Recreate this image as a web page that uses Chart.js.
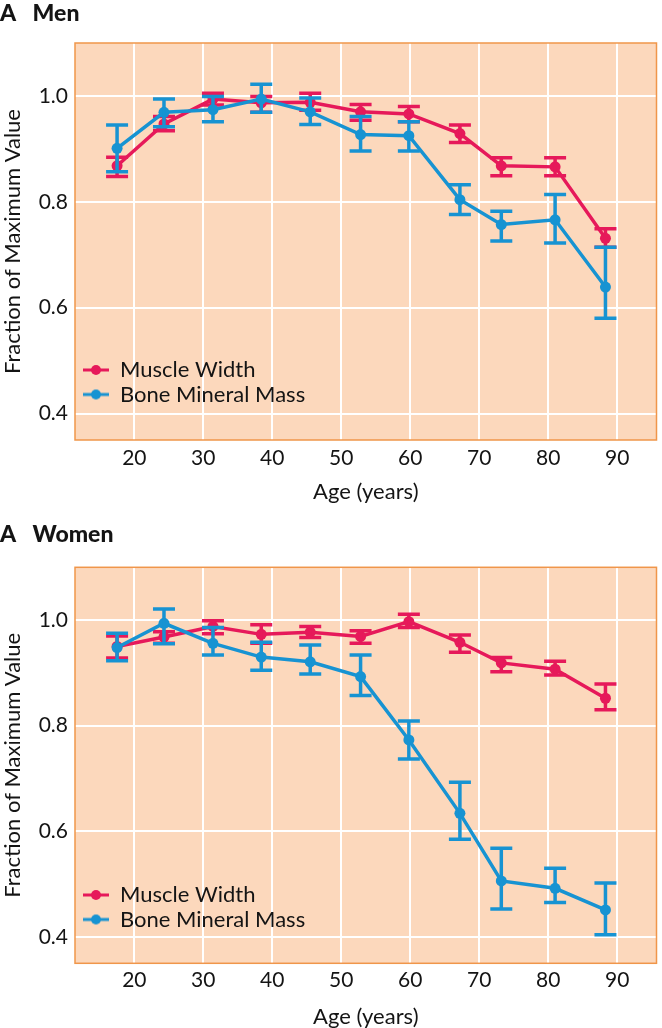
<!DOCTYPE html>
<html>
<head>
<meta charset="utf-8">
<script src="https://cdn.jsdelivr.net/npm/chart.js@4.4.1/dist/chart.umd.min.js"></script>
<style>
  html, body { margin: 0; padding: 0; background: #ffffff; }
  #wrap { position: relative; width: 662px; height: 1028px; overflow: hidden; }
  canvas { position: absolute; left: 0; }
  #men { top: 0; }
  #women { top: 510px; }
</style>
</head>
<body>
<div id="wrap">
  <canvas id="men" width="662" height="510"></canvas>
  <canvas id="women" width="662" height="522"></canvas>
</div>
<script>
// ---- Data ----
const ages = [17.5, 24.3, 31.4, 38.4, 45.5, 52.8, 59.8, 67.2, 73.2, 81.0, 88.3];
const xTicks = [20, 30, 40, 50, 60, 70, 80, 90];
const yTicks = [0.4, 0.6, 0.8, 1.0];
const seriesLabels = ['Muscle Width', 'Bone Mineral Mass'];

const menMuscle     = [0.868, 0.947, 0.994, 0.987, 0.988, 0.970, 0.966, 0.929, 0.868, 0.866, 0.731];
const menMuscleLow  = [0.848, 0.934, 0.983, 0.969, 0.973, 0.954, 0.951, 0.912, 0.849, 0.849, 0.714];
const menMuscleHigh = [0.884, 0.961, 1.005, 0.999, 1.005, 0.984, 0.980, 0.945, 0.883, 0.883, 0.749];

const menBone     = [0.901, 0.969, 0.974, 0.994, 0.970, 0.927, 0.925, 0.804, 0.757, 0.766, 0.639];
const menBoneLow  = [0.857, 0.942, 0.951, 0.969, 0.946, 0.896, 0.896, 0.776, 0.726, 0.722, 0.580];
const menBoneHigh = [0.945, 0.994, 0.999, 1.022, 0.996, 0.961, 0.951, 0.832, 0.782, 0.814, 0.714];

const womenMuscle     = [0.950, 0.968, 0.988, 0.973, 0.977, 0.969, 0.997, 0.958, 0.919, 0.907, 0.852];
const womenMuscleLow  = [0.928, 0.956, 0.974, 0.956, 0.967, 0.956, 0.986, 0.939, 0.902, 0.896, 0.830];
const womenMuscleHigh = [0.970, 0.978, 0.999, 0.991, 0.988, 0.980, 1.011, 0.972, 0.929, 0.922, 0.879];

const womenBone     = [0.948, 0.994, 0.956, 0.930, 0.921, 0.893, 0.773, 0.634, 0.506, 0.492, 0.451];
const womenBoneLow  = [0.923, 0.955, 0.934, 0.905, 0.898, 0.857, 0.737, 0.585, 0.453, 0.465, 0.404];
const womenBoneHigh = [0.975, 1.021, 0.986, 0.958, 0.953, 0.934, 0.809, 0.693, 0.568, 0.530, 0.502];

// ---- Styles ----
const RED = '#E6195A';
const BLUE = '#1793D2';
const BG = '#FCD8BC';
const FRAME = '#F0964A';
const TEXT = '#141414';
const FONT = 'Lato, "Open Sans", sans-serif';

function toXY(xs, ys) { return xs.map((x, i) => ({ x: x, y: ys[i] })); }

function marker(color) {
  const c = document.createElement('canvas');
  c.width = 26; c.height = 12;
  const g = c.getContext('2d');
  g.strokeStyle = color; g.lineWidth = 3;
  g.beginPath(); g.moveTo(0, 6); g.lineTo(26, 6); g.stroke();
  g.fillStyle = color;
  g.beginPath(); g.arc(13, 6, 5, 0, Math.PI * 2); g.fill();
  return c;
}

const plotFrame = {
  id: 'plotFrame',
  beforeDraw(chart) {
    const a = chart.chartArea, ctx = chart.ctx;
    ctx.save(); ctx.fillStyle = BG;
    ctx.fillRect(a.left, a.top, a.right - a.left, a.bottom - a.top);
    ctx.restore();
  },
  beforeDatasetsDraw(chart) {
    const a = chart.chartArea, ctx = chart.ctx;
    ctx.save(); ctx.strokeStyle = FRAME; ctx.lineWidth = 1.5;
    ctx.strokeRect(a.left, a.top, a.right - a.left, a.bottom - a.top);
    ctx.restore();
  }
};

const errorBars = {
  id: 'errorBars',
  afterDatasetDraw(chart, args) {
    const ds = chart.data.datasets[args.index];
    if (!ds.errLow) return;
    const xs = chart.scales.x, ys = chart.scales.y, ctx = chart.ctx;
    ctx.save();
    ctx.strokeStyle = ds.borderColor;
    ctx.lineWidth = 3.5;
    ctx.lineCap = 'butt';
    ds.data.forEach((p, i) => {
      const px = xs.getPixelForValue(p.x);
      const lo = ys.getPixelForValue(ds.errLow[i]);
      const hi = ys.getPixelForValue(ds.errHigh[i]);
      ctx.beginPath();
      ctx.moveTo(px, lo); ctx.lineTo(px, hi);
      ctx.moveTo(px - 11, lo); ctx.lineTo(px + 11, lo);
      ctx.moveTo(px - 11, hi); ctx.lineTo(px + 11, hi);
      ctx.stroke();
    });
    ctx.restore();
  }
};

const legendPlace = {
  id: 'legendPlace',
  afterLayout(chart, args, opts) {
    const lg = chart.legend;
    if (!lg) return;
    const a = chart.chartArea;
    lg.left = opts.left;
    lg.top = opts.top;
    lg.right = a.right;
    lg.bottom = a.bottom;
    lg.width = lg.right - lg.left;
    lg.height = lg.bottom - lg.top;
  }
};

function makeChart(id, title, muscle, muscleLow, muscleHigh, bone, boneLow, boneHigh, L) {
  const series = (label, vals, lo, hi, color, order) => ({
    label: label,
    data: toXY(ages, vals),
    errLow: lo, errHigh: hi,
    borderColor: color, backgroundColor: color,
    borderWidth: 3.5, pointRadius: 5.5, pointHoverRadius: 5.5, pointBorderWidth: 0,
    tension: 0, order: order
  });
  return new Chart(document.getElementById(id), {
    type: 'line',
    data: {
      datasets: [
        series(seriesLabels[0], muscle, muscleLow, muscleHigh, RED, 2),
        series(seriesLabels[1], bone, boneLow, boneHigh, BLUE, 1)
      ]
    },
    plugins: [plotFrame, errorBars, legendPlace],
    options: {
      responsive: false,
      animation: false,
      layout: { padding: { left: 0, right: 1, top: 0, bottom: 0 } },
      plugins: {
        tooltip: { enabled: false },
        title: {
          display: true, text: title, align: 'start', color: TEXT,
          font: { family: FONT, size: 23, weight: 900 },
          padding: { top: L.titleTop, bottom: L.titleBottom }
        },
        legend: {
          position: 'chartArea', align: 'start',
          labels: {
            usePointStyle: true, pointStyleWidth: 26, padding: 2.5,
            color: TEXT, font: { family: FONT, size: 22 },
            generateLabels: (chart) => chart.data.datasets.map((ds, i) => ({
              text: ds.label, pointStyle: marker(ds.borderColor),
              fillStyle: ds.borderColor, strokeStyle: ds.borderColor,
              lineWidth: 0, hidden: false, datasetIndex: i, fontColor: TEXT, textAlign: 'left'
            }))
          }
        },
        legendPlace: { left: 80.5, top: L.legendTop }
      },
      scales: {
        x: {
          type: 'linear', min: 11.4, max: 95.7,
          afterBuildTicks: (ax) => { ax.ticks = xTicks.map(v => ({ value: v })); },
          afterFit: (s) => { s.height = L.xAxisHeight; },
          grid: { color: '#ffffff', lineWidth: 2, drawTicks: false },
          border: { display: false },
          ticks: { padding: L.xTickPad, color: TEXT, font: { family: FONT, size: 21 }, callback: (v) => String(v) },
          title: { display: true, text: 'Age (years)', color: TEXT, font: { family: FONT, size: 22 }, padding: { top: 0, bottom: L.xTitlePad } }
        },
        y: {
          min: 0.35, max: 1.10,
          afterBuildTicks: (ax) => { ax.ticks = yTicks.map(v => ({ value: v })); },
          afterFit: (s) => { s.width = 75; },
          grid: { color: '#ffffff', lineWidth: 2, drawTicks: false },
          border: { display: false },
          ticks: { padding: 7, color: TEXT, font: { family: FONT, size: 21 }, callback: (v) => Number(v).toFixed(1) },
          title: { display: true, text: 'Fraction of Maximum Value', color: TEXT, font: { family: FONT, size: 22 }, padding: { top: 0, bottom: 0 } }
        }
      }
    }
  });
}

makeChart('men', 'A   Men', menMuscle, menMuscleLow, menMuscleHigh, menBone, menBoneLow, menBoneHigh,
  { titleTop: 0.2, titleBottom: 15.2, xAxisHeight: 70, xTickPad: 5.4, xTitlePad: 4.8, legendTop: 356.5 });
makeChart('women', 'A   Women', womenMuscle, womenMuscleLow, womenMuscleHigh, womenBone, womenBoneLow, womenBoneHigh,
  { titleTop: 11.2, titleBottom: 18.5, xAxisHeight: 68.7, xTickPad: 4.8, xTitlePad: 2.1, legendTop: 371.5 });
</script>
</body>
</html>
